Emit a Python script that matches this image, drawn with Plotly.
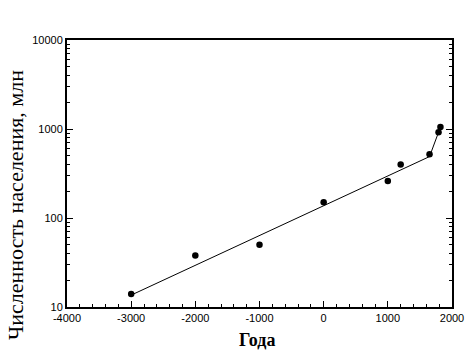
import plotly.graph_objects as go

years = [-3000, -2000, -1000, 0, 1000, 1200, 1650, 1790, 1820]
population = [14, 38, 50, 150, 260, 400, 520, 920, 1050]

trend_years = [-3000, 1650, 1820]
trend_population = [13.6, 490, 1050]

x_tickvals = [-4000, -3000, -2000, -1000, 0, 1000, 2000]
x_ticktext = ["-4000", "-3000", "-2000", "-1000", "0", "1000", "2000"]
y_tickvals = [10, 100, 1000, 10000]
y_ticktext = ["10", "100", "1000", "10000"]

fig = go.Figure()
fig.add_trace(go.Scatter(x=trend_years, y=trend_population, mode="lines",
                         line=dict(color="black", width=1), showlegend=False))
fig.add_trace(go.Scatter(x=years, y=population, mode="markers",
                         marker=dict(color="black", size=6.5, symbol="circle"),
                         showlegend=False))

tickfont = dict(family="Liberation Sans, Arial", size=11, color="black")
serif = "Liberation Serif, Times New Roman, serif"

fig.update_layout(
    width=472, height=356,
    margin=dict(l=67, r=20, t=40, b=49),
    paper_bgcolor="white", plot_bgcolor="white",
    xaxis=dict(range=[-4000, 2000], tickvals=x_tickvals, ticktext=x_ticktext,
               ticks="inside", ticklen=6, tickwidth=1, tickcolor="black",
               minor=dict(ticks="inside", ticklen=3, dtick=200, tickcolor="black"),
               showline=True, linecolor="black", linewidth=2, mirror=True,
               showgrid=False, zeroline=False, automargin=False,
               tickfont=tickfont),
    yaxis=dict(type="log", range=[1, 4], tickvals=y_tickvals, ticktext=y_ticktext,
               ticks="inside", ticklen=6, tickwidth=1, tickcolor="black",
               minor=dict(ticks="inside", ticklen=3, dtick="D1", tickcolor="black"),
               showline=True, linecolor="black", linewidth=2, mirror="ticks",
               showgrid=False, zeroline=False, automargin=False,
               tickfont=tickfont),
    annotations=[
        dict(text="<b>Года</b>", xref="paper", yref="paper", x=0.494, y=-0.124,
             xanchor="center", yanchor="middle", showarrow=False,
             font=dict(family=serif, size=18, color="black")),
        dict(text="Численность населения, млн", xref="paper", yref="paper",
             x=-0.135, y=0.382, xanchor="center", yanchor="middle", textangle=-90,
             showarrow=False, font=dict(family=serif, size=22, color="black")),
    ],
)

fig.write_html("out.html", config={"displayModeBar": False},
               post_script="document.body.style.margin='0';document.body.style.padding='0';")
